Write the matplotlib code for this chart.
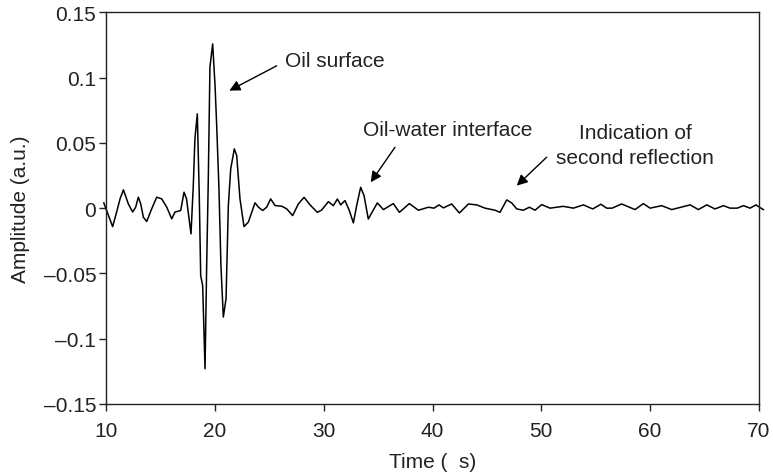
import matplotlib
matplotlib.use("Agg")
import matplotlib.pyplot as plt

plt.rcParams['font.family'] = ['Liberation Sans', 'DejaVu Sans']

# trace (time in us, amplitude in a.u.)
time = [9.8, 10.0, 10.61, 10.98, 11.29, 11.6, 11.84, 12.05, 12.45, 12.73, 12.97, 13.19,
        13.43, 13.74, 14.2, 14.66, 15.12, 15.58, 16.04, 16.34, 16.65, 16.86, 17.17, 17.4,
        17.81, 18.02, 18.17, 18.39, 18.57, 18.7, 18.88, 19.1, 19.25, 19.4, 19.55, 19.8,
        20.02, 20.17, 20.38, 20.56, 20.78, 21.03, 21.24, 21.46, 21.79, 22.01, 22.31, 22.68,
        23.08, 23.69, 24.0, 24.4, 24.77, 25.13, 25.53, 26.14, 26.6, 27.15, 27.67, 28.2,
        28.75, 29.42, 29.82, 30.43, 30.89, 31.26, 31.56, 31.96, 32.36, 32.73, 33.03, 33.4,
        33.71, 34.1, 34.93, 35.49, 36.4, 36.96, 37.87, 38.7, 39.62, 40.14, 40.6, 41.0,
        41.76, 42.47, 43.3, 44.06, 44.83, 45.75, 46.2, 46.82, 47.28, 47.74, 48.35, 48.9,
        49.42, 50.03, 50.8, 52.02, 52.94, 53.86, 54.72, 55.48, 56.0, 56.5, 57.38, 58.61,
        59.37, 59.99, 61.06, 61.98, 63.67, 64.43, 65.2, 65.96, 66.73, 67.34, 68.0, 68.57,
        69.18, 69.73, 70.1, 70.4]
amp = [0.004, -0.0005, -0.0142, -0.0029, 0.0071, 0.014, 0.0084, 0.0033, -0.003, 0.0008, 0.0084, 0.0033,
       -0.0069, -0.0102, -0.0005, 0.0084, 0.0071, 0.0008, -0.0082, -0.003, -0.0023, -0.0018, 0.0122, 0.0071,
       -0.0197, 0.0173, 0.0531, 0.0722, 0.0097, -0.0516, -0.0592, -0.123, -0.0439, 0.0224, 0.1079, 0.1258,
       0.0939, 0.0633, 0.0148, -0.0439, -0.0834, -0.0694, 0.002, 0.0301, 0.0454, 0.0403, 0.0071, -0.0141,
       -0.0107, 0.0041, 0.0008, -0.0018, 0.0008, 0.0071, 0.002, 0.0015, -0.0005, -0.0057, 0.0032, 0.0083,
       0.0025, -0.0032, -0.0014, 0.005, 0.0019, 0.007, 0.0025, 0.0058, -0.0019, -0.0113, 0.0019, 0.016,
       0.0096, -0.0083, 0.004, -0.0011, 0.0035, -0.0032, 0.0035, -0.0016, 0.0007, 0.0, 0.0025, 0.0002,
       0.0032, -0.0037, 0.0032, 0.0025, 0.0, -0.0016, -0.0032, 0.0063, 0.004, -0.0006, -0.0016, 0.0007,
       -0.0016, 0.0027, 0.0, 0.0014, 0.0, 0.0025, -0.0006, 0.003, 0.0, 0.0, 0.0032, -0.0011,
       0.0035, 0.0, 0.0019, -0.0011, 0.0025, -0.0011, 0.0025, -0.0006, 0.0019, 0.0, 0.0, 0.0019,
       0.0, 0.0025, 0.0004, -0.0011]

xticks = [10, 20, 30, 40, 50, 60, 70]
yticks = [0.15, 0.1, 0.05, 0, -0.05, -0.1, -0.15]
ytick_labels = ['0.15', '0.1', '0.05', '0', '\u20130.05', '\u20130.1', '\u20130.15']

fig = plt.figure(figsize=(7.73, 4.77), dpi=100)
ax = fig.add_axes([106/773, 1 - 405/477, (759 - 106)/773, (405 - 13.3)/477])

ax.plot(time, amp, color='black', lw=1.1, clip_on=False)

ax.set_xlim(10, 70)
ax.set_ylim(-0.15, 0.15)
ax.set_xticks(xticks)
ax.set_yticks(yticks)
ax.set_yticklabels(ytick_labels)
ax.tick_params(direction='out', length=5, width=1, labelsize=15, colors='#222222')
ax.tick_params(axis='x', pad=7)
ax.tick_params(axis='y', pad=2)
for s in ax.spines.values():
    s.set_linewidth(1)
    s.set_color('#222222')

ax.set_xlabel('Time (  s)', fontsize=15, color='#222222', labelpad=9)
ax.set_ylabel('Amplitude (a.u.)', fontsize=15, color='#222222', labelpad=10)

arrow = dict(arrowstyle='-|>', color='black', lw=1, mutation_scale=16,
             shrinkA=0, shrinkB=0)
ax.annotate('', xy=(21.33, 0.090), xytext=(25.68, 0.109), arrowprops=arrow)
ax.text(26.45, 0.113, 'Oil surface', fontsize=15, ha='left', va='center', color='#222222')

ax.annotate('', xy=(34.32, 0.0198), xytext=(36.55, 0.0466), arrowprops=arrow)
ax.text(41.42, 0.0606, 'Oil-water interface', fontsize=15, ha='center', va='center', color='#222222')

ax.annotate('', xy=(47.74, 0.0172), xytext=(50.49, 0.039), arrowprops=arrow)
ax.text(58.6, 0.0484, 'Indication of\nsecond reflection', fontsize=15, ha='center', va='center',
        linespacing=1.4, color='#222222')

fig.savefig('out.png', dpi=100)
